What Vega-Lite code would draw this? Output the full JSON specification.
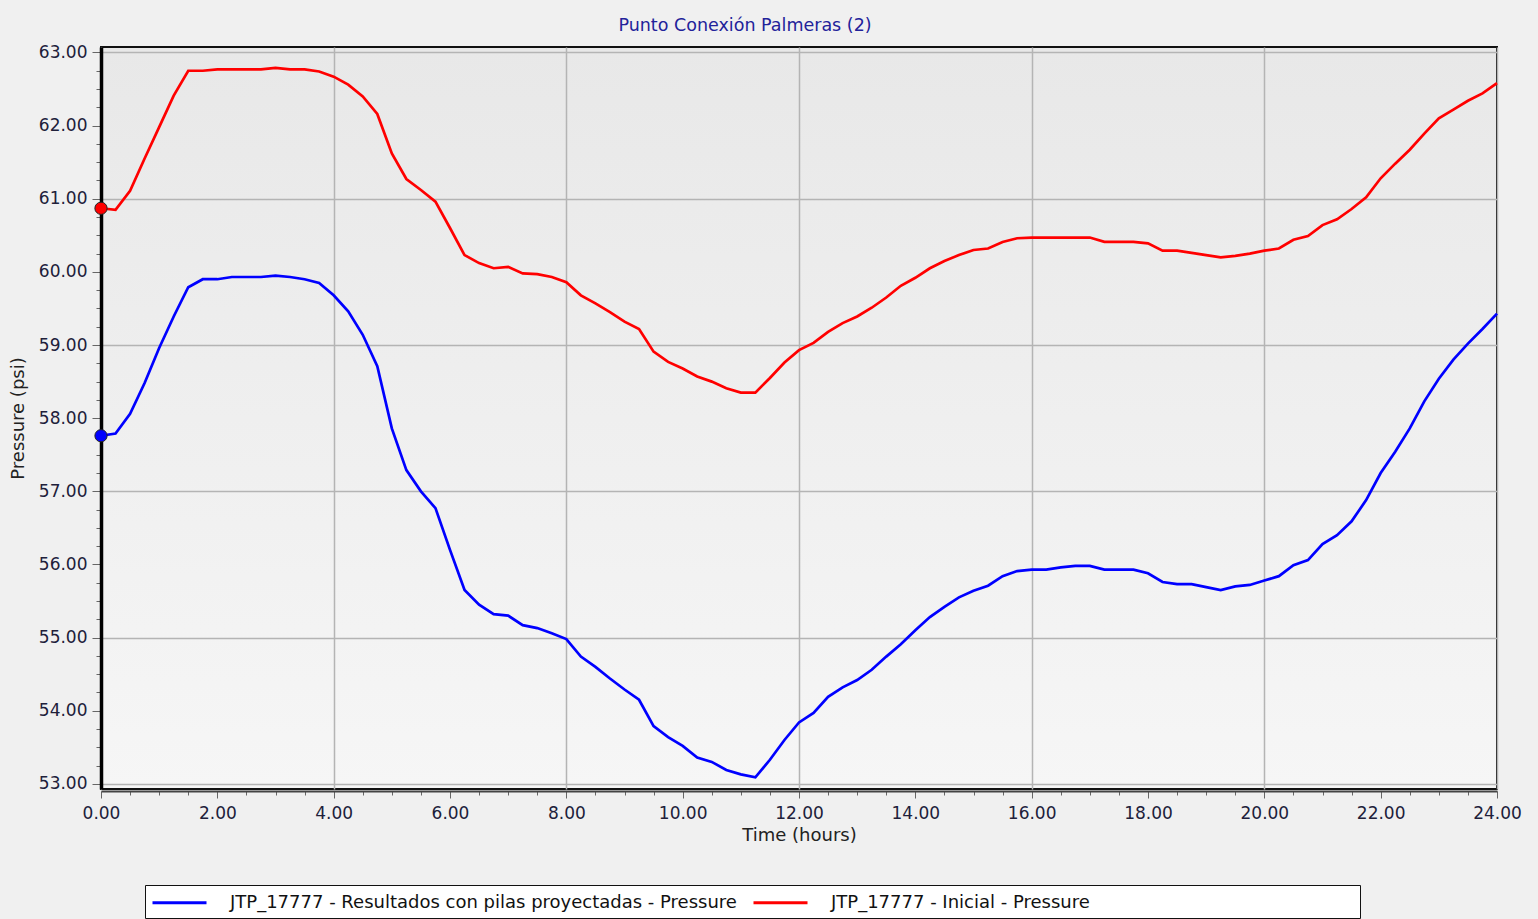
{
  "$schema": "https://vega.github.io/schema/vega-lite/v6.json",
  "width": 1396,
  "height": 742,
  "autosize": "none",
  "padding": {"left": 101, "top": 47, "right": 41, "bottom": 130},
  "background": "#f0f0f0",
  "title": {
    "text": "Punto Conexión Palmeras (2)",
    "font": "DejaVu Sans",
    "fontSize": 17.5,
    "fontWeight": "normal",
    "color": "#22229a",
    "anchor": "middle",
    "dx": -54,
    "offset": 9
  },
  "config": {
    "view": {
      "fill": {"gradient": "linear", "x1": 0, "y1": 0, "x2": 0, "y2": 1, "stops": [{"offset": 0, "color": "#e8e8e8"}, {"offset": 1, "color": "#f6f6f6"}]},
      "stroke": "#111111",
      "strokeWidth": 2
    },
    "axis": {
      "labelFont": "DejaVu Sans",
      "titleFont": "DejaVu Sans",
      "labelFontSize": 17,
      "titleFontSize": 18,
      "titleFontWeight": "normal",
      "labelColor": "#20203a",
      "titleColor": "#222222",
      "tickColor": "#666666",
      "gridColor": "#b4b4b4",
      "gridWidth": 1.5,
      "labelFlush": false
    },
    "legend": {
      "labelFont": "DejaVu Sans"
    }
  },
  "data": {
    "values": [
      {"hour": 0, "pressure": 60.87, "series": "JTP_17777 - Inicial - Pressure"},
      {"hour": 0.25, "pressure": 60.85, "series": "JTP_17777 - Inicial - Pressure"},
      {"hour": 0.5, "pressure": 61.11, "series": "JTP_17777 - Inicial - Pressure"},
      {"hour": 0.75, "pressure": 61.55, "series": "JTP_17777 - Inicial - Pressure"},
      {"hour": 1, "pressure": 61.98, "series": "JTP_17777 - Inicial - Pressure"},
      {"hour": 1.25, "pressure": 62.41, "series": "JTP_17777 - Inicial - Pressure"},
      {"hour": 1.5, "pressure": 62.75, "series": "JTP_17777 - Inicial - Pressure"},
      {"hour": 1.75, "pressure": 62.75, "series": "JTP_17777 - Inicial - Pressure"},
      {"hour": 2, "pressure": 62.77, "series": "JTP_17777 - Inicial - Pressure"},
      {"hour": 2.25, "pressure": 62.77, "series": "JTP_17777 - Inicial - Pressure"},
      {"hour": 2.5, "pressure": 62.77, "series": "JTP_17777 - Inicial - Pressure"},
      {"hour": 2.75, "pressure": 62.77, "series": "JTP_17777 - Inicial - Pressure"},
      {"hour": 3, "pressure": 62.79, "series": "JTP_17777 - Inicial - Pressure"},
      {"hour": 3.25, "pressure": 62.77, "series": "JTP_17777 - Inicial - Pressure"},
      {"hour": 3.5, "pressure": 62.77, "series": "JTP_17777 - Inicial - Pressure"},
      {"hour": 3.75, "pressure": 62.74, "series": "JTP_17777 - Inicial - Pressure"},
      {"hour": 4, "pressure": 62.67, "series": "JTP_17777 - Inicial - Pressure"},
      {"hour": 4.25, "pressure": 62.56, "series": "JTP_17777 - Inicial - Pressure"},
      {"hour": 4.5, "pressure": 62.4, "series": "JTP_17777 - Inicial - Pressure"},
      {"hour": 4.75, "pressure": 62.16, "series": "JTP_17777 - Inicial - Pressure"},
      {"hour": 5, "pressure": 61.62, "series": "JTP_17777 - Inicial - Pressure"},
      {"hour": 5.25, "pressure": 61.27, "series": "JTP_17777 - Inicial - Pressure"},
      {"hour": 5.5, "pressure": 61.12, "series": "JTP_17777 - Inicial - Pressure"},
      {"hour": 5.75, "pressure": 60.96, "series": "JTP_17777 - Inicial - Pressure"},
      {"hour": 6, "pressure": 60.6, "series": "JTP_17777 - Inicial - Pressure"},
      {"hour": 6.25, "pressure": 60.23, "series": "JTP_17777 - Inicial - Pressure"},
      {"hour": 6.5, "pressure": 60.12, "series": "JTP_17777 - Inicial - Pressure"},
      {"hour": 6.75, "pressure": 60.05, "series": "JTP_17777 - Inicial - Pressure"},
      {"hour": 7, "pressure": 60.07, "series": "JTP_17777 - Inicial - Pressure"},
      {"hour": 7.25, "pressure": 59.98, "series": "JTP_17777 - Inicial - Pressure"},
      {"hour": 7.5, "pressure": 59.97, "series": "JTP_17777 - Inicial - Pressure"},
      {"hour": 7.75, "pressure": 59.93, "series": "JTP_17777 - Inicial - Pressure"},
      {"hour": 8, "pressure": 59.86, "series": "JTP_17777 - Inicial - Pressure"},
      {"hour": 8.25, "pressure": 59.68, "series": "JTP_17777 - Inicial - Pressure"},
      {"hour": 8.5, "pressure": 59.57, "series": "JTP_17777 - Inicial - Pressure"},
      {"hour": 8.75, "pressure": 59.45, "series": "JTP_17777 - Inicial - Pressure"},
      {"hour": 9, "pressure": 59.32, "series": "JTP_17777 - Inicial - Pressure"},
      {"hour": 9.25, "pressure": 59.22, "series": "JTP_17777 - Inicial - Pressure"},
      {"hour": 9.5, "pressure": 58.91, "series": "JTP_17777 - Inicial - Pressure"},
      {"hour": 9.75, "pressure": 58.77, "series": "JTP_17777 - Inicial - Pressure"},
      {"hour": 10, "pressure": 58.68, "series": "JTP_17777 - Inicial - Pressure"},
      {"hour": 10.25, "pressure": 58.57, "series": "JTP_17777 - Inicial - Pressure"},
      {"hour": 10.5, "pressure": 58.5, "series": "JTP_17777 - Inicial - Pressure"},
      {"hour": 10.75, "pressure": 58.41, "series": "JTP_17777 - Inicial - Pressure"},
      {"hour": 11, "pressure": 58.35, "series": "JTP_17777 - Inicial - Pressure"},
      {"hour": 11.25, "pressure": 58.35, "series": "JTP_17777 - Inicial - Pressure"},
      {"hour": 11.5, "pressure": 58.55, "series": "JTP_17777 - Inicial - Pressure"},
      {"hour": 11.75, "pressure": 58.76, "series": "JTP_17777 - Inicial - Pressure"},
      {"hour": 12, "pressure": 58.93, "series": "JTP_17777 - Inicial - Pressure"},
      {"hour": 12.25, "pressure": 59.03, "series": "JTP_17777 - Inicial - Pressure"},
      {"hour": 12.5, "pressure": 59.18, "series": "JTP_17777 - Inicial - Pressure"},
      {"hour": 12.75, "pressure": 59.3, "series": "JTP_17777 - Inicial - Pressure"},
      {"hour": 13, "pressure": 59.39, "series": "JTP_17777 - Inicial - Pressure"},
      {"hour": 13.25, "pressure": 59.51, "series": "JTP_17777 - Inicial - Pressure"},
      {"hour": 13.5, "pressure": 59.65, "series": "JTP_17777 - Inicial - Pressure"},
      {"hour": 13.75, "pressure": 59.81, "series": "JTP_17777 - Inicial - Pressure"},
      {"hour": 14, "pressure": 59.92, "series": "JTP_17777 - Inicial - Pressure"},
      {"hour": 14.25, "pressure": 60.05, "series": "JTP_17777 - Inicial - Pressure"},
      {"hour": 14.5, "pressure": 60.15, "series": "JTP_17777 - Inicial - Pressure"},
      {"hour": 14.75, "pressure": 60.23, "series": "JTP_17777 - Inicial - Pressure"},
      {"hour": 15, "pressure": 60.3, "series": "JTP_17777 - Inicial - Pressure"},
      {"hour": 15.25, "pressure": 60.32, "series": "JTP_17777 - Inicial - Pressure"},
      {"hour": 15.5, "pressure": 60.41, "series": "JTP_17777 - Inicial - Pressure"},
      {"hour": 15.75, "pressure": 60.46, "series": "JTP_17777 - Inicial - Pressure"},
      {"hour": 16, "pressure": 60.47, "series": "JTP_17777 - Inicial - Pressure"},
      {"hour": 16.25, "pressure": 60.47, "series": "JTP_17777 - Inicial - Pressure"},
      {"hour": 16.5, "pressure": 60.47, "series": "JTP_17777 - Inicial - Pressure"},
      {"hour": 16.75, "pressure": 60.47, "series": "JTP_17777 - Inicial - Pressure"},
      {"hour": 17, "pressure": 60.47, "series": "JTP_17777 - Inicial - Pressure"},
      {"hour": 17.25, "pressure": 60.41, "series": "JTP_17777 - Inicial - Pressure"},
      {"hour": 17.5, "pressure": 60.41, "series": "JTP_17777 - Inicial - Pressure"},
      {"hour": 17.75, "pressure": 60.41, "series": "JTP_17777 - Inicial - Pressure"},
      {"hour": 18, "pressure": 60.39, "series": "JTP_17777 - Inicial - Pressure"},
      {"hour": 18.25, "pressure": 60.29, "series": "JTP_17777 - Inicial - Pressure"},
      {"hour": 18.5, "pressure": 60.29, "series": "JTP_17777 - Inicial - Pressure"},
      {"hour": 18.75, "pressure": 60.26, "series": "JTP_17777 - Inicial - Pressure"},
      {"hour": 19, "pressure": 60.23, "series": "JTP_17777 - Inicial - Pressure"},
      {"hour": 19.25, "pressure": 60.2, "series": "JTP_17777 - Inicial - Pressure"},
      {"hour": 19.5, "pressure": 60.22, "series": "JTP_17777 - Inicial - Pressure"},
      {"hour": 19.75, "pressure": 60.25, "series": "JTP_17777 - Inicial - Pressure"},
      {"hour": 20, "pressure": 60.29, "series": "JTP_17777 - Inicial - Pressure"},
      {"hour": 20.25, "pressure": 60.32, "series": "JTP_17777 - Inicial - Pressure"},
      {"hour": 20.5, "pressure": 60.44, "series": "JTP_17777 - Inicial - Pressure"},
      {"hour": 20.75, "pressure": 60.49, "series": "JTP_17777 - Inicial - Pressure"},
      {"hour": 21, "pressure": 60.64, "series": "JTP_17777 - Inicial - Pressure"},
      {"hour": 21.25, "pressure": 60.72, "series": "JTP_17777 - Inicial - Pressure"},
      {"hour": 21.5, "pressure": 60.86, "series": "JTP_17777 - Inicial - Pressure"},
      {"hour": 21.75, "pressure": 61.02, "series": "JTP_17777 - Inicial - Pressure"},
      {"hour": 22, "pressure": 61.28, "series": "JTP_17777 - Inicial - Pressure"},
      {"hour": 22.25, "pressure": 61.48, "series": "JTP_17777 - Inicial - Pressure"},
      {"hour": 22.5, "pressure": 61.67, "series": "JTP_17777 - Inicial - Pressure"},
      {"hour": 22.75, "pressure": 61.89, "series": "JTP_17777 - Inicial - Pressure"},
      {"hour": 23, "pressure": 62.1, "series": "JTP_17777 - Inicial - Pressure"},
      {"hour": 23.25, "pressure": 62.22, "series": "JTP_17777 - Inicial - Pressure"},
      {"hour": 23.5, "pressure": 62.34, "series": "JTP_17777 - Inicial - Pressure"},
      {"hour": 23.75, "pressure": 62.44, "series": "JTP_17777 - Inicial - Pressure"},
      {"hour": 24, "pressure": 62.58, "series": "JTP_17777 - Inicial - Pressure"},
      {"hour": 0, "pressure": 57.76, "series": "JTP_17777 - Resultados con pilas proyectadas - Pressure"},
      {"hour": 0.25, "pressure": 57.79, "series": "JTP_17777 - Resultados con pilas proyectadas - Pressure"},
      {"hour": 0.5, "pressure": 58.06, "series": "JTP_17777 - Resultados con pilas proyectadas - Pressure"},
      {"hour": 0.75, "pressure": 58.48, "series": "JTP_17777 - Resultados con pilas proyectadas - Pressure"},
      {"hour": 1, "pressure": 58.96, "series": "JTP_17777 - Resultados con pilas proyectadas - Pressure"},
      {"hour": 1.25, "pressure": 59.39, "series": "JTP_17777 - Resultados con pilas proyectadas - Pressure"},
      {"hour": 1.5, "pressure": 59.79, "series": "JTP_17777 - Resultados con pilas proyectadas - Pressure"},
      {"hour": 1.75, "pressure": 59.9, "series": "JTP_17777 - Resultados con pilas proyectadas - Pressure"},
      {"hour": 2, "pressure": 59.9, "series": "JTP_17777 - Resultados con pilas proyectadas - Pressure"},
      {"hour": 2.25, "pressure": 59.93, "series": "JTP_17777 - Resultados con pilas proyectadas - Pressure"},
      {"hour": 2.5, "pressure": 59.93, "series": "JTP_17777 - Resultados con pilas proyectadas - Pressure"},
      {"hour": 2.75, "pressure": 59.93, "series": "JTP_17777 - Resultados con pilas proyectadas - Pressure"},
      {"hour": 3, "pressure": 59.95, "series": "JTP_17777 - Resultados con pilas proyectadas - Pressure"},
      {"hour": 3.25, "pressure": 59.93, "series": "JTP_17777 - Resultados con pilas proyectadas - Pressure"},
      {"hour": 3.5, "pressure": 59.9, "series": "JTP_17777 - Resultados con pilas proyectadas - Pressure"},
      {"hour": 3.75, "pressure": 59.85, "series": "JTP_17777 - Resultados con pilas proyectadas - Pressure"},
      {"hour": 4, "pressure": 59.68, "series": "JTP_17777 - Resultados con pilas proyectadas - Pressure"},
      {"hour": 4.25, "pressure": 59.46, "series": "JTP_17777 - Resultados con pilas proyectadas - Pressure"},
      {"hour": 4.5, "pressure": 59.14, "series": "JTP_17777 - Resultados con pilas proyectadas - Pressure"},
      {"hour": 4.75, "pressure": 58.71, "series": "JTP_17777 - Resultados con pilas proyectadas - Pressure"},
      {"hour": 5, "pressure": 57.86, "series": "JTP_17777 - Resultados con pilas proyectadas - Pressure"},
      {"hour": 5.25, "pressure": 57.29, "series": "JTP_17777 - Resultados con pilas proyectadas - Pressure"},
      {"hour": 5.5, "pressure": 57.0, "series": "JTP_17777 - Resultados con pilas proyectadas - Pressure"},
      {"hour": 5.75, "pressure": 56.77, "series": "JTP_17777 - Resultados con pilas proyectadas - Pressure"},
      {"hour": 6, "pressure": 56.2, "series": "JTP_17777 - Resultados con pilas proyectadas - Pressure"},
      {"hour": 6.25, "pressure": 55.65, "series": "JTP_17777 - Resultados con pilas proyectadas - Pressure"},
      {"hour": 6.5, "pressure": 55.45, "series": "JTP_17777 - Resultados con pilas proyectadas - Pressure"},
      {"hour": 6.75, "pressure": 55.32, "series": "JTP_17777 - Resultados con pilas proyectadas - Pressure"},
      {"hour": 7, "pressure": 55.3, "series": "JTP_17777 - Resultados con pilas proyectadas - Pressure"},
      {"hour": 7.25, "pressure": 55.17, "series": "JTP_17777 - Resultados con pilas proyectadas - Pressure"},
      {"hour": 7.5, "pressure": 55.13, "series": "JTP_17777 - Resultados con pilas proyectadas - Pressure"},
      {"hour": 7.75, "pressure": 55.06, "series": "JTP_17777 - Resultados con pilas proyectadas - Pressure"},
      {"hour": 8, "pressure": 54.98, "series": "JTP_17777 - Resultados con pilas proyectadas - Pressure"},
      {"hour": 8.25, "pressure": 54.74, "series": "JTP_17777 - Resultados con pilas proyectadas - Pressure"},
      {"hour": 8.5, "pressure": 54.6, "series": "JTP_17777 - Resultados con pilas proyectadas - Pressure"},
      {"hour": 8.75, "pressure": 54.44, "series": "JTP_17777 - Resultados con pilas proyectadas - Pressure"},
      {"hour": 9, "pressure": 54.29, "series": "JTP_17777 - Resultados con pilas proyectadas - Pressure"},
      {"hour": 9.25, "pressure": 54.15, "series": "JTP_17777 - Resultados con pilas proyectadas - Pressure"},
      {"hour": 9.5, "pressure": 53.79, "series": "JTP_17777 - Resultados con pilas proyectadas - Pressure"},
      {"hour": 9.75, "pressure": 53.64, "series": "JTP_17777 - Resultados con pilas proyectadas - Pressure"},
      {"hour": 10, "pressure": 53.52, "series": "JTP_17777 - Resultados con pilas proyectadas - Pressure"},
      {"hour": 10.25, "pressure": 53.36, "series": "JTP_17777 - Resultados con pilas proyectadas - Pressure"},
      {"hour": 10.5, "pressure": 53.3, "series": "JTP_17777 - Resultados con pilas proyectadas - Pressure"},
      {"hour": 10.75, "pressure": 53.19, "series": "JTP_17777 - Resultados con pilas proyectadas - Pressure"},
      {"hour": 11, "pressure": 53.13, "series": "JTP_17777 - Resultados con pilas proyectadas - Pressure"},
      {"hour": 11.25, "pressure": 53.09, "series": "JTP_17777 - Resultados con pilas proyectadas - Pressure"},
      {"hour": 11.5, "pressure": 53.33, "series": "JTP_17777 - Resultados con pilas proyectadas - Pressure"},
      {"hour": 11.75, "pressure": 53.6, "series": "JTP_17777 - Resultados con pilas proyectadas - Pressure"},
      {"hour": 12, "pressure": 53.84, "series": "JTP_17777 - Resultados con pilas proyectadas - Pressure"},
      {"hour": 12.25, "pressure": 53.97, "series": "JTP_17777 - Resultados con pilas proyectadas - Pressure"},
      {"hour": 12.5, "pressure": 54.19, "series": "JTP_17777 - Resultados con pilas proyectadas - Pressure"},
      {"hour": 12.75, "pressure": 54.32, "series": "JTP_17777 - Resultados con pilas proyectadas - Pressure"},
      {"hour": 13, "pressure": 54.42, "series": "JTP_17777 - Resultados con pilas proyectadas - Pressure"},
      {"hour": 13.25, "pressure": 54.56, "series": "JTP_17777 - Resultados con pilas proyectadas - Pressure"},
      {"hour": 13.5, "pressure": 54.74, "series": "JTP_17777 - Resultados con pilas proyectadas - Pressure"},
      {"hour": 13.75, "pressure": 54.91, "series": "JTP_17777 - Resultados con pilas proyectadas - Pressure"},
      {"hour": 14, "pressure": 55.1, "series": "JTP_17777 - Resultados con pilas proyectadas - Pressure"},
      {"hour": 14.25, "pressure": 55.28, "series": "JTP_17777 - Resultados con pilas proyectadas - Pressure"},
      {"hour": 14.5, "pressure": 55.42, "series": "JTP_17777 - Resultados con pilas proyectadas - Pressure"},
      {"hour": 14.75, "pressure": 55.55, "series": "JTP_17777 - Resultados con pilas proyectadas - Pressure"},
      {"hour": 15, "pressure": 55.64, "series": "JTP_17777 - Resultados con pilas proyectadas - Pressure"},
      {"hour": 15.25, "pressure": 55.71, "series": "JTP_17777 - Resultados con pilas proyectadas - Pressure"},
      {"hour": 15.5, "pressure": 55.84, "series": "JTP_17777 - Resultados con pilas proyectadas - Pressure"},
      {"hour": 15.75, "pressure": 55.91, "series": "JTP_17777 - Resultados con pilas proyectadas - Pressure"},
      {"hour": 16, "pressure": 55.93, "series": "JTP_17777 - Resultados con pilas proyectadas - Pressure"},
      {"hour": 16.25, "pressure": 55.93, "series": "JTP_17777 - Resultados con pilas proyectadas - Pressure"},
      {"hour": 16.5, "pressure": 55.96, "series": "JTP_17777 - Resultados con pilas proyectadas - Pressure"},
      {"hour": 16.75, "pressure": 55.98, "series": "JTP_17777 - Resultados con pilas proyectadas - Pressure"},
      {"hour": 17, "pressure": 55.98, "series": "JTP_17777 - Resultados con pilas proyectadas - Pressure"},
      {"hour": 17.25, "pressure": 55.93, "series": "JTP_17777 - Resultados con pilas proyectadas - Pressure"},
      {"hour": 17.5, "pressure": 55.93, "series": "JTP_17777 - Resultados con pilas proyectadas - Pressure"},
      {"hour": 17.75, "pressure": 55.93, "series": "JTP_17777 - Resultados con pilas proyectadas - Pressure"},
      {"hour": 18, "pressure": 55.88, "series": "JTP_17777 - Resultados con pilas proyectadas - Pressure"},
      {"hour": 18.25, "pressure": 55.76, "series": "JTP_17777 - Resultados con pilas proyectadas - Pressure"},
      {"hour": 18.5, "pressure": 55.73, "series": "JTP_17777 - Resultados con pilas proyectadas - Pressure"},
      {"hour": 18.75, "pressure": 55.73, "series": "JTP_17777 - Resultados con pilas proyectadas - Pressure"},
      {"hour": 19, "pressure": 55.69, "series": "JTP_17777 - Resultados con pilas proyectadas - Pressure"},
      {"hour": 19.25, "pressure": 55.65, "series": "JTP_17777 - Resultados con pilas proyectadas - Pressure"},
      {"hour": 19.5, "pressure": 55.7, "series": "JTP_17777 - Resultados con pilas proyectadas - Pressure"},
      {"hour": 19.75, "pressure": 55.72, "series": "JTP_17777 - Resultados con pilas proyectadas - Pressure"},
      {"hour": 20, "pressure": 55.78, "series": "JTP_17777 - Resultados con pilas proyectadas - Pressure"},
      {"hour": 20.25, "pressure": 55.84, "series": "JTP_17777 - Resultados con pilas proyectadas - Pressure"},
      {"hour": 20.5, "pressure": 55.99, "series": "JTP_17777 - Resultados con pilas proyectadas - Pressure"},
      {"hour": 20.75, "pressure": 56.06, "series": "JTP_17777 - Resultados con pilas proyectadas - Pressure"},
      {"hour": 21, "pressure": 56.28, "series": "JTP_17777 - Resultados con pilas proyectadas - Pressure"},
      {"hour": 21.25, "pressure": 56.4, "series": "JTP_17777 - Resultados con pilas proyectadas - Pressure"},
      {"hour": 21.5, "pressure": 56.59, "series": "JTP_17777 - Resultados con pilas proyectadas - Pressure"},
      {"hour": 21.75, "pressure": 56.88, "series": "JTP_17777 - Resultados con pilas proyectadas - Pressure"},
      {"hour": 22, "pressure": 57.25, "series": "JTP_17777 - Resultados con pilas proyectadas - Pressure"},
      {"hour": 22.25, "pressure": 57.54, "series": "JTP_17777 - Resultados con pilas proyectadas - Pressure"},
      {"hour": 22.5, "pressure": 57.86, "series": "JTP_17777 - Resultados con pilas proyectadas - Pressure"},
      {"hour": 22.75, "pressure": 58.23, "series": "JTP_17777 - Resultados con pilas proyectadas - Pressure"},
      {"hour": 23, "pressure": 58.54, "series": "JTP_17777 - Resultados con pilas proyectadas - Pressure"},
      {"hour": 23.25, "pressure": 58.8, "series": "JTP_17777 - Resultados con pilas proyectadas - Pressure"},
      {"hour": 23.5, "pressure": 59.02, "series": "JTP_17777 - Resultados con pilas proyectadas - Pressure"},
      {"hour": 23.75, "pressure": 59.22, "series": "JTP_17777 - Resultados con pilas proyectadas - Pressure"},
      {"hour": 24, "pressure": 59.43, "series": "JTP_17777 - Resultados con pilas proyectadas - Pressure"}
    ]
  },
  "layer": [
    {
      "mark": {"type": "line", "strokeOpacity": 0},
      "encoding": {
        "x": {"field": "hour", "type": "quantitative", "scale": {"domain": [0, 24], "nice": false, "zero": false},
          "axis": {"orient": "bottom", "values": [0, 4, 8, 12, 16, 20, 24], "grid": true, "labels": false, "ticks": false, "domain": false, "title": null}},
        "y": {"field": "pressure", "type": "quantitative", "scale": {"domain": [52.93, 63.075], "nice": false, "zero": false},
          "axis": {"orient": "left", "values": [53, 55, 57, 59, 61, 63], "grid": true, "labels": false, "ticks": false, "domain": false, "title": null}},
        "detail": {"field": "series"}
      }
    },
    {
      "mark": {"type": "line", "strokeOpacity": 0},
      "encoding": {
        "x": {"field": "hour", "type": "quantitative", "scale": {"domain": [0, 24], "nice": false, "zero": false},
          "axis": {"orient": "bottom", "values": [1, 3, 5, 7, 9, 11, 13, 15, 17, 19, 21, 23, 0.5, 1.5, 2.5, 3.5, 4.5, 5.5, 6.5, 7.5, 8.5, 9.5, 10.5, 11.5, 12.5, 13.5, 14.5, 15.5, 16.5, 17.5, 18.5, 19.5, 20.5, 21.5, 22.5, 23.5], "grid": false, "labels": false, "ticks": true, "tickSize": 4, "offset": 2, "domain": false, "title": null}},
        "y": {"field": "pressure", "type": "quantitative", "scale": {"domain": [52.93, 63.075], "nice": false, "zero": false},
          "axis": {"orient": "left", "values": [53.25, 53.5, 53.75, 54.25, 54.5, 54.75, 55.25, 55.5, 55.75, 56.25, 56.5, 56.75, 57.25, 57.5, 57.75, 58.25, 58.5, 58.75, 59.25, 59.5, 59.75, 60.25, 60.5, 60.75, 61.25, 61.5, 61.75, 62.25, 62.5, 62.75], "grid": false, "labels": false, "ticks": true, "tickSize": 4, "offset": 1, "domain": false, "title": null}},
        "detail": {"field": "series"}
      }
    },
    {
      "mark": {"type": "line", "strokeWidth": 2.7},
      "encoding": {
        "x": {"field": "hour", "type": "quantitative", "scale": {"domain": [0, 24], "nice": false, "zero": false},
          "axis": {"orient": "bottom", "values": [0, 2, 4, 6, 8, 10, 12, 14, 16, 18, 20, 22, 24], "format": ".2f", "grid": false, "ticks": true, "tickSize": 7, "offset": 2, "labelPadding": 7, "domain": true, "domainColor": "#444444", "domainWidth": 2, "title": "Time (hours)", "titlePadding": 5}},
        "y": {"field": "pressure", "type": "quantitative", "scale": {"domain": [52.93, 63.075], "nice": false, "zero": false},
          "axis": {"orient": "left", "values": [53, 54, 55, 56, 57, 58, 59, 60, 61, 62, 63], "format": ".2f", "grid": false, "ticks": true, "tickSize": 9, "labelPadding": 5, "domain": true, "domainColor": "#000000", "domainWidth": 3.5, "title": "Pressure (psi)", "titlePadding": 11}},
        "color": {"field": "series", "type": "nominal",
          "scale": {"domain": ["JTP_17777 - Resultados con pilas proyectadas - Pressure", "JTP_17777 - Inicial - Pressure"], "range": ["#0000ff", "#ff0000"]},
          "legend": {"orient": "none", "legendX": 44, "legendY": 838, "direction": "horizontal", "columns": 2, "title": null,
            "labelExpr": "indexof(datum.label, 'Inicial') >= 0 ? datum.label + '\u2800\u2800\u2800\u2800\u2800\u2800\u2800\u2800\u2800\u2800\u2800\u2800\u2800\u2800\u2800\u2800\u2800\u2800\u2800\u2800' : datum.label",
            "symbolType": "M-1,0H4.4", "symbolSize": 400, "symbolStrokeWidth": 3, "labelFontSize": 18, "labelColor": "#111111", "labelLimit": 2000, "labelOffset": 56, "columnPadding": 10,
            "strokeColor": "#111111", "fillColor": "#ffffff", "padding": 6}}
      }
    },
    {
      "transform": [{"filter": "datum.hour == 0"}],
      "mark": {"type": "circle", "size": 150, "stroke": "#222222", "strokeWidth": 1, "opacity": 1},
      "encoding": {
        "x": {"field": "hour", "type": "quantitative", "scale": {"domain": [0, 24], "nice": false, "zero": false}, "axis": null},
        "y": {"field": "pressure", "type": "quantitative", "scale": {"domain": [52.93, 63.075], "nice": false, "zero": false}, "axis": null},
        "fill": {"field": "series", "type": "nominal",
          "scale": {"domain": ["JTP_17777 - Resultados con pilas proyectadas - Pressure", "JTP_17777 - Inicial - Pressure"], "range": ["#0000ff", "#ff0000"]},
          "legend": null}
      }
    }
  ],
  "resolve": {"axis": {"x": "independent", "y": "independent"}}
}
